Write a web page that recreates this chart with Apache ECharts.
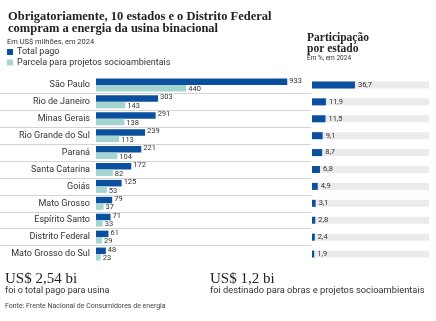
<!DOCTYPE html>
<html><head><meta charset="utf-8">
<script src="https://cdn.jsdelivr.net/npm/echarts@6/dist/echarts.min.js"></script>
<style>html,body{margin:0;padding:0;background:#fff}#c{width:436px;height:321px}</style>
</head><body><div id="c"></div>
<script>
const categories = ['São Paulo','Rio de Janeiro','Minas Gerais','Rio Grande do Sul','Paraná','Santa Catarina','Goiás','Mato Grosso','Espírito Santo','Distrito Federal','Mato Grosso do Sul'];
const totalPago = [933,303,291,239,221,172,125,79,71,61,48];
const parcela = [440,143,138,113,104,82,53,37,33,29,23];
const participacao = [36.7,11.9,11.5,9.1,8.7,6.8,4.9,3.1,2.8,2.4,1.9];

const BLUE = '#0b4f9f', TEAL = '#a6d5d1', GRAY = '#ebebeb';
const SANS = 'Roboto', SERIF = 'Liberation Serif';
const gTop = 76.5, gH = 186;
const fmt = v => String(v).replace('.', ',');

const chart = echarts.init(document.getElementById('c'), null, {renderer:'canvas'});
chart.setOption({
  animation:false,
  textStyle:{fontFamily:SANS},
  title:[
    {text:'Obrigatoriamente, 10 estados e o Distrito Federal\ncompram a energia da usina binacional', left:8, top:11.5, padding:0,
     textStyle:{fontFamily:SERIF,fontWeight:'bold',fontSize:12.5,lineHeight:11.5,color:'#222'}},
    {text:'Em US$ milhões, em 2024', left:7, top:38, padding:0, textStyle:{fontFamily:SANS,fontSize:7.5,fontWeight:'normal',color:'#333'}},
    {text:'Participação\npor estado', left:307, top:33, padding:0, textStyle:{fontFamily:SERIF,fontWeight:'bold',fontSize:11.5,lineHeight:11,color:'#222'}},
    {text:'Em %, em 2024', left:307, top:55, padding:0, textStyle:{fontFamily:SANS,fontSize:6.5,fontWeight:'normal',color:'#333'}},
    {text:'US$ 2,54 bi', left:5, top:272, padding:0, textStyle:{fontFamily:SERIF,fontSize:15,fontWeight:'normal',color:'#222'}},
    {text:'foi o total pago para usina', left:5, top:286.5, padding:0, textStyle:{fontFamily:SANS,fontSize:9,fontWeight:'normal',color:'#333'}},
    {text:'US$ 1,2 bi', left:210, top:272, padding:0, textStyle:{fontFamily:SERIF,fontSize:15,fontWeight:'normal',color:'#222'}},
    {text:'foi destinado para obras e projetos socioambientais', left:210, top:286.5, padding:0, textStyle:{fontFamily:SANS,fontSize:9.3,fontWeight:'normal',color:'#333'}},
    {text:'Fonte: Frente Nacional de Consumidores de energia', left:5, top:303, padding:0, textStyle:{fontFamily:SANS,fontSize:7,fontWeight:'normal',color:'#444'}}
  ],
  legend:{orient:'vertical', left:7, top:47.5, padding:0, itemWidth:6, itemHeight:6, itemGap:1.5, icon:'rect',
    textStyle:{fontFamily:SANS,fontSize:9,color:'#333',padding:[0,0,0,-1]},
    data:['Total pago','Parcela para projetos socioambientais']},
  grid:[
    {left:96, top:gTop, width:205, height:gH},
    {left:312, top:gTop, width:117, height:gH},
    {left:0, top:gTop, width:311, height:gH}
  ],
  xAxis:[
    {gridIndex:0, type:'value', min:0, max:1000, show:false},
    {gridIndex:1, type:'value', min:0, max:100, show:false},
    {gridIndex:2, type:'value', min:0, max:1, show:false}
  ],
  yAxis:[
    {gridIndex:0, type:'category', data:categories, inverse:true,
     axisLine:{show:false}, axisTick:{show:false}, splitLine:{show:false},
     axisLabel:{fontFamily:SANS, fontSize:9, color:'#333', margin:6}},
    {gridIndex:1, type:'category', data:categories, inverse:true, show:false},
    {gridIndex:2, type:'category', data:categories, inverse:true,
     axisLine:{show:false}, axisTick:{show:false}, axisLabel:{show:false},
     splitLine:{show:true, lineStyle:{color:'#d4d4d4', width:1}, showMinLine:false, showMaxLine:false}}
  ],
  series:[
    {name:'Total pago', type:'bar', xAxisIndex:0, yAxisIndex:0, data:totalPago, barWidth:6.5, barGap:'0%',
     itemStyle:{color:BLUE},
     label:{show:true, position:'right', distance:2, fontFamily:SANS, fontSize:7.5, color:'#333', offset:[0,-1]}},
    {name:'Parcela para projetos socioambientais', type:'bar', xAxisIndex:0, yAxisIndex:0, data:parcela, barWidth:6.5,
     itemStyle:{color:TEAL},
     label:{show:true, position:'right', distance:2, fontFamily:SANS, fontSize:7.5, color:'#333', offset:[0,1]}},
    {name:'Participação', type:'bar', xAxisIndex:1, yAxisIndex:1, data:participacao, barWidth:7,
     itemStyle:{color:BLUE}, showBackground:true, backgroundStyle:{color:GRAY},
     label:{show:true, position:'right', distance:3, fontFamily:SANS, fontSize:7.5, color:'#333',
       formatter:p=>fmt(p.value)}}
  ]
});
</script></body></html>
